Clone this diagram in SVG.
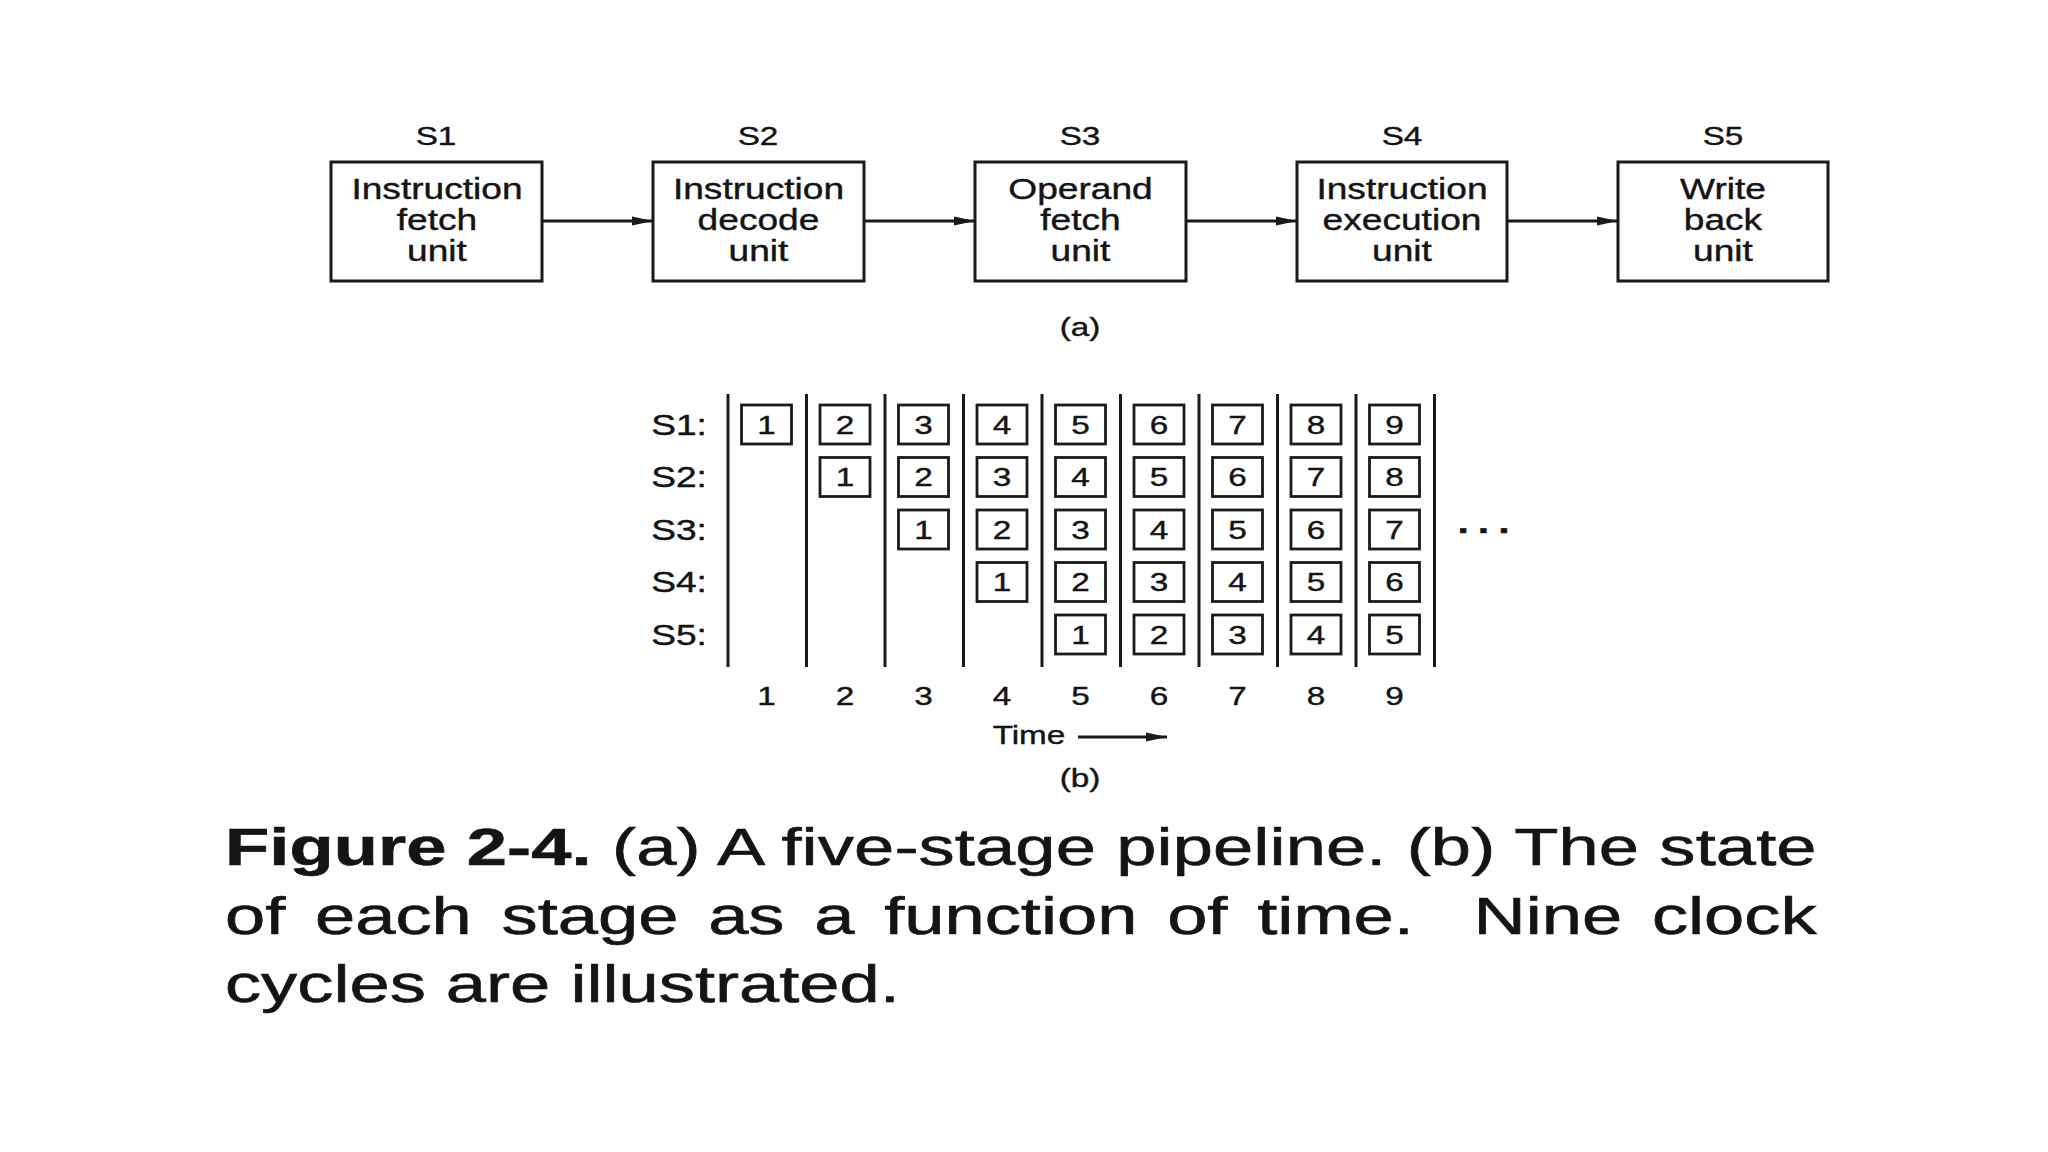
<svg xmlns="http://www.w3.org/2000/svg" width="2048" height="1152" viewBox="0 0 2048 1152">
<style>
text{font-family:"Liberation Sans",Arial,Helvetica,sans-serif;fill:#141414;stroke:#141414;stroke-width:0.4px}
.t{transform-box:fill-box;transform-origin:center;transform:scaleX(1.28)}
.box{fill:#fff;stroke:#1a1a1a;stroke-width:3}
.cell{fill:#fff;stroke:#1a1a1a;stroke-width:2.8}
.vl{stroke:#1a1a1a;stroke-width:3}
.conn{stroke:#1a1a1a;stroke-width:2.8;fill:none}
.bt{font-size:29px;text-anchor:middle}
.sl{font-size:26px;text-anchor:middle}
.rl{font-size:29px;text-anchor:middle}
.num{font-size:26px;text-anchor:middle}
.cap{font-size:52px;stroke-width:0.6px;transform-box:fill-box;transform-origin:left center;transform:scaleX(1.39)}
</style>
<defs>
<marker id="ah" markerUnits="userSpaceOnUse" markerWidth="22" markerHeight="12" refX="21" refY="6" orient="auto">
<path d="M0,1.5 L21,6 L0,10.5 z" fill="#1a1a1a"/>
</marker>
</defs>
<rect width="2048" height="1152" fill="#fff"/>

<!-- (a) pipeline -->
<g id="s1">
<text class="sl t" x="436" y="145">S1</text>
<rect class="box" x="331" y="162" width="211" height="119"/>
<text class="bt t" x="437" y="199">Instruction</text>
<text class="bt t" x="437" y="230">fetch</text>
<text class="bt t" x="437" y="261">unit</text>
</g>
<g id="s2">
<text class="sl t" x="758" y="145">S2</text>
<rect class="box" x="653" y="162" width="211" height="119"/>
<text class="bt t" x="758.5" y="199">Instruction</text>
<text class="bt t" x="758.5" y="230">decode</text>
<text class="bt t" x="758.5" y="261">unit</text>
</g>
<g id="s3">
<text class="sl t" x="1080" y="145">S3</text>
<rect class="box" x="975" y="162" width="211" height="119"/>
<text class="bt t" x="1080.5" y="199">Operand</text>
<text class="bt t" x="1080.5" y="230">fetch</text>
<text class="bt t" x="1080.5" y="261">unit</text>
</g>
<g id="s4">
<text class="sl t" x="1402" y="145">S4</text>
<rect class="box" x="1297" y="162" width="210" height="119"/>
<text class="bt t" x="1402" y="199">Instruction</text>
<text class="bt t" x="1402" y="230">execution</text>
<text class="bt t" x="1402" y="261">unit</text>
</g>
<g id="s5">
<text class="sl t" x="1723" y="145">S5</text>
<rect class="box" x="1618" y="162" width="210" height="119"/>
<text class="bt t" x="1723" y="199">Write</text>
<text class="bt t" x="1723" y="230">back</text>
<text class="bt t" x="1723" y="261">unit</text>
</g>
<g id="connectors">
<line class="conn" x1="542" y1="221" x2="653" y2="221" marker-end="url(#ah)"/>
<line class="conn" x1="864" y1="221" x2="975" y2="221" marker-end="url(#ah)"/>
<line class="conn" x1="1186" y1="221" x2="1297" y2="221" marker-end="url(#ah)"/>
<line class="conn" x1="1507" y1="221" x2="1618" y2="221" marker-end="url(#ah)"/>
<line class="conn" x1="1078" y1="737" x2="1167" y2="737" marker-end="url(#ah)"/>
</g>
<text class="sl t" x="1080" y="336">(a)</text>

<!-- (b) timing -->
<g id="row-labels">
<text class="rl t" x="679" y="435">S1:</text>
<text class="rl t" x="679" y="487.5">S2:</text>
<text class="rl t" x="679" y="540">S3:</text>
<text class="rl t" x="679" y="592.5">S4:</text>
<text class="rl t" x="679" y="645">S5:</text>
</g>
<g id="grid-lines">
<line class="vl" x1="728" y1="394" x2="728" y2="667"/>
<line class="vl" x1="806.5" y1="394" x2="806.5" y2="667"/>
<line class="vl" x1="885" y1="394" x2="885" y2="667"/>
<line class="vl" x1="963.5" y1="394" x2="963.5" y2="667"/>
<line class="vl" x1="1042" y1="394" x2="1042" y2="667"/>
<line class="vl" x1="1120.5" y1="394" x2="1120.5" y2="667"/>
<line class="vl" x1="1199" y1="394" x2="1199" y2="667"/>
<line class="vl" x1="1277.5" y1="394" x2="1277.5" y2="667"/>
<line class="vl" x1="1356" y1="394" x2="1356" y2="667"/>
<line class="vl" x1="1434.5" y1="394" x2="1434.5" y2="667"/>
</g>
<g id="col1">
<rect class="cell" x="741.5" y="405" width="50" height="39"/><text class="num t" x="766.5" y="434">1</text>
</g>
<g id="col2">
<rect class="cell" x="820" y="405" width="50" height="39"/><text class="num t" x="845" y="434">2</text>
<rect class="cell" x="820" y="457.5" width="50" height="39"/><text class="num t" x="845" y="486.5">1</text>
</g>
<g id="col3">
<rect class="cell" x="898.5" y="405" width="50" height="39"/><text class="num t" x="923.5" y="434">3</text>
<rect class="cell" x="898.5" y="457.5" width="50" height="39"/><text class="num t" x="923.5" y="486.5">2</text>
<rect class="cell" x="898.5" y="510" width="50" height="39"/><text class="num t" x="923.5" y="539">1</text>
</g>
<g id="col4">
<rect class="cell" x="977" y="405" width="50" height="39"/><text class="num t" x="1002" y="434">4</text>
<rect class="cell" x="977" y="457.5" width="50" height="39"/><text class="num t" x="1002" y="486.5">3</text>
<rect class="cell" x="977" y="510" width="50" height="39"/><text class="num t" x="1002" y="539">2</text>
<rect class="cell" x="977" y="562.5" width="50" height="39"/><text class="num t" x="1002" y="591.5">1</text>
</g>
<g id="col5">
<rect class="cell" x="1055.5" y="405" width="50" height="39"/><text class="num t" x="1080.5" y="434">5</text>
<rect class="cell" x="1055.5" y="457.5" width="50" height="39"/><text class="num t" x="1080.5" y="486.5">4</text>
<rect class="cell" x="1055.5" y="510" width="50" height="39"/><text class="num t" x="1080.5" y="539">3</text>
<rect class="cell" x="1055.5" y="562.5" width="50" height="39"/><text class="num t" x="1080.5" y="591.5">2</text>
<rect class="cell" x="1055.5" y="615" width="50" height="39"/><text class="num t" x="1080.5" y="644">1</text>
</g>
<g id="col6">
<rect class="cell" x="1134" y="405" width="50" height="39"/><text class="num t" x="1159" y="434">6</text>
<rect class="cell" x="1134" y="457.5" width="50" height="39"/><text class="num t" x="1159" y="486.5">5</text>
<rect class="cell" x="1134" y="510" width="50" height="39"/><text class="num t" x="1159" y="539">4</text>
<rect class="cell" x="1134" y="562.5" width="50" height="39"/><text class="num t" x="1159" y="591.5">3</text>
<rect class="cell" x="1134" y="615" width="50" height="39"/><text class="num t" x="1159" y="644">2</text>
</g>
<g id="col7">
<rect class="cell" x="1212.5" y="405" width="50" height="39"/><text class="num t" x="1237.5" y="434">7</text>
<rect class="cell" x="1212.5" y="457.5" width="50" height="39"/><text class="num t" x="1237.5" y="486.5">6</text>
<rect class="cell" x="1212.5" y="510" width="50" height="39"/><text class="num t" x="1237.5" y="539">5</text>
<rect class="cell" x="1212.5" y="562.5" width="50" height="39"/><text class="num t" x="1237.5" y="591.5">4</text>
<rect class="cell" x="1212.5" y="615" width="50" height="39"/><text class="num t" x="1237.5" y="644">3</text>
</g>
<g id="col8">
<rect class="cell" x="1291" y="405" width="50" height="39"/><text class="num t" x="1316" y="434">8</text>
<rect class="cell" x="1291" y="457.5" width="50" height="39"/><text class="num t" x="1316" y="486.5">7</text>
<rect class="cell" x="1291" y="510" width="50" height="39"/><text class="num t" x="1316" y="539">6</text>
<rect class="cell" x="1291" y="562.5" width="50" height="39"/><text class="num t" x="1316" y="591.5">5</text>
<rect class="cell" x="1291" y="615" width="50" height="39"/><text class="num t" x="1316" y="644">4</text>
</g>
<g id="col9">
<rect class="cell" x="1369.5" y="405" width="50" height="39"/><text class="num t" x="1394.5" y="434">9</text>
<rect class="cell" x="1369.5" y="457.5" width="50" height="39"/><text class="num t" x="1394.5" y="486.5">8</text>
<rect class="cell" x="1369.5" y="510" width="50" height="39"/><text class="num t" x="1394.5" y="539">7</text>
<rect class="cell" x="1369.5" y="562.5" width="50" height="39"/><text class="num t" x="1394.5" y="591.5">6</text>
<rect class="cell" x="1369.5" y="615" width="50" height="39"/><text class="num t" x="1394.5" y="644">5</text>
</g>
<text class="num t" x="1488" y="533" style="font-size:32px;font-weight:bold;letter-spacing:7px">...</text>
<g id="time-axis">
<text class="num t" x="766.5" y="705">1</text>
<text class="num t" x="845" y="705">2</text>
<text class="num t" x="923.5" y="705">3</text>
<text class="num t" x="1002" y="705">4</text>
<text class="num t" x="1080.5" y="705">5</text>
<text class="num t" x="1159" y="705">6</text>
<text class="num t" x="1237.5" y="705">7</text>
<text class="num t" x="1316" y="705">8</text>
<text class="num t" x="1394.5" y="705">9</text>
<text class="num t" x="1029" y="744">Time</text>
</g>
<text class="sl t" x="1080" y="787">(b)</text>

<!-- caption -->
<g id="caption">
<text class="cap" x="225" y="865" textLength="1145" lengthAdjust="spacing"><tspan font-weight="bold">Figure 2-4.</tspan> (a) A five-stage pipeline. (b) The state</text>
<text class="cap" x="225" y="934" textLength="1145" lengthAdjust="spacing" word-spacing="7">of each stage as a function of time.&#160; Nine clock</text>
<text class="cap" x="225" y="1002">cycles are illustrated.</text>
</g>
</svg>
